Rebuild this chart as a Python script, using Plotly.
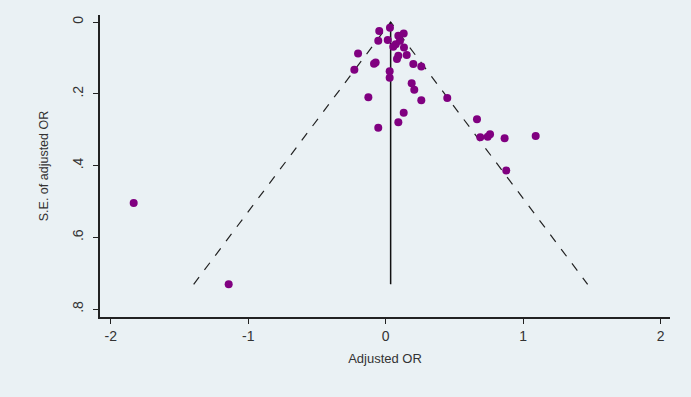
import plotly.graph_objects as go

# Study estimates (adjusted OR, log scale) and their standard errors
adjusted_or = [0.031, -0.047, -0.054, 0.015, 0.092, 0.131, 0.104, 0.073, 0.055, 0.133,
               -0.201, 0.092, 0.082, 0.153, -0.085, -0.073, 0.201, 0.259, -0.228, 0.029,
               0.029, 0.189, 0.208, -0.126, 0.259, 0.448, 0.131, 0.092, -0.054, 0.664,
               0.688, 0.742, 0.759, 0.865, 1.091, 0.877, -1.833, -1.142]
se_adjusted_or = [0.016, 0.025, 0.052, 0.050, 0.038, 0.032, 0.052, 0.062, 0.069, 0.071,
                  0.088, 0.094, 0.103, 0.092, 0.116, 0.113, 0.117, 0.124, 0.133, 0.137,
                  0.155, 0.171, 0.189, 0.210, 0.218, 0.212, 0.253, 0.279, 0.295, 0.271,
                  0.321, 0.320, 0.313, 0.324, 0.318, 0.414, 0.504, 0.731]

pooled_or = 0.036
z = 1.96
se_max = max(se_adjusted_or)

x_ticks = [-2, -1, 0, 1, 2]
x_tick_labels = ["-2", "-1", "0", "1", "2"]
y_ticks = [0, 0.2, 0.4, 0.6, 0.8]
y_tick_labels = ["0", ".2", ".4", ".6", ".8"]

bg = "#EAF1F4"
font_family = "Liberation Sans, Arial, sans-serif"

fig = go.Figure()

# pseudo 95% confidence limits
fig.add_trace(go.Scatter(
    x=[pooled_or - z * se_max, pooled_or, pooled_or + z * se_max],
    y=[se_max, 0, se_max],
    mode="lines",
    line=dict(color="#222222", width=1.2, dash="dash"),
    hoverinfo="skip", showlegend=False))

# pooled estimate line
fig.add_trace(go.Scatter(
    x=[pooled_or, pooled_or], y=[0, se_max],
    mode="lines", line=dict(color="#111111", width=1.5),
    hoverinfo="skip", showlegend=False))

fig.add_trace(go.Scatter(
    x=adjusted_or, y=se_adjusted_or, mode="markers",
    marker=dict(color="#800080", size=8, line=dict(width=0)),
    showlegend=False))

fig.update_layout(
    width=691, height=397,
    paper_bgcolor=bg, plot_bgcolor=bg,
    margin=dict(l=100, r=21, t=15, b=80),
    font=dict(family=font_family, color="#333333"),
    showlegend=False,
)
fig.update_xaxes(
    range=[-2.078, 2.068], tickvals=x_ticks, ticktext=x_tick_labels,
    showgrid=False, zeroline=False,
    showline=True, linecolor="#222222", linewidth=1.5,
    ticks="outside", ticklen=5, tickcolor="#222222", tickwidth=1.2,
    tickfont=dict(size=14, color="#333333"),
    title=dict(text="Adjusted OR", font=dict(size=13, color="#333333"), standoff=11),
)
fig.update_yaxes(
    range=[0.822, -0.0195], tickvals=y_ticks, ticktext=y_tick_labels,
    showgrid=False, zeroline=False,
    showline=True, linecolor="#222222", linewidth=1.5,
    ticks="outside", ticklen=5, tickcolor="#222222", tickwidth=1.2,
    tickangle=-90, ticklabelstandoff=5,
    tickfont=dict(size=14, color="#333333"),
    title=dict(text="S.E. of adjusted OR", font=dict(size=12.5, color="#333333"), standoff=18),
)

fig.write_html(
    "out.html",
    config={"displayModeBar": False},
    post_script="document.body.style.margin='0';document.body.style.background='%s';" % bg,
)
